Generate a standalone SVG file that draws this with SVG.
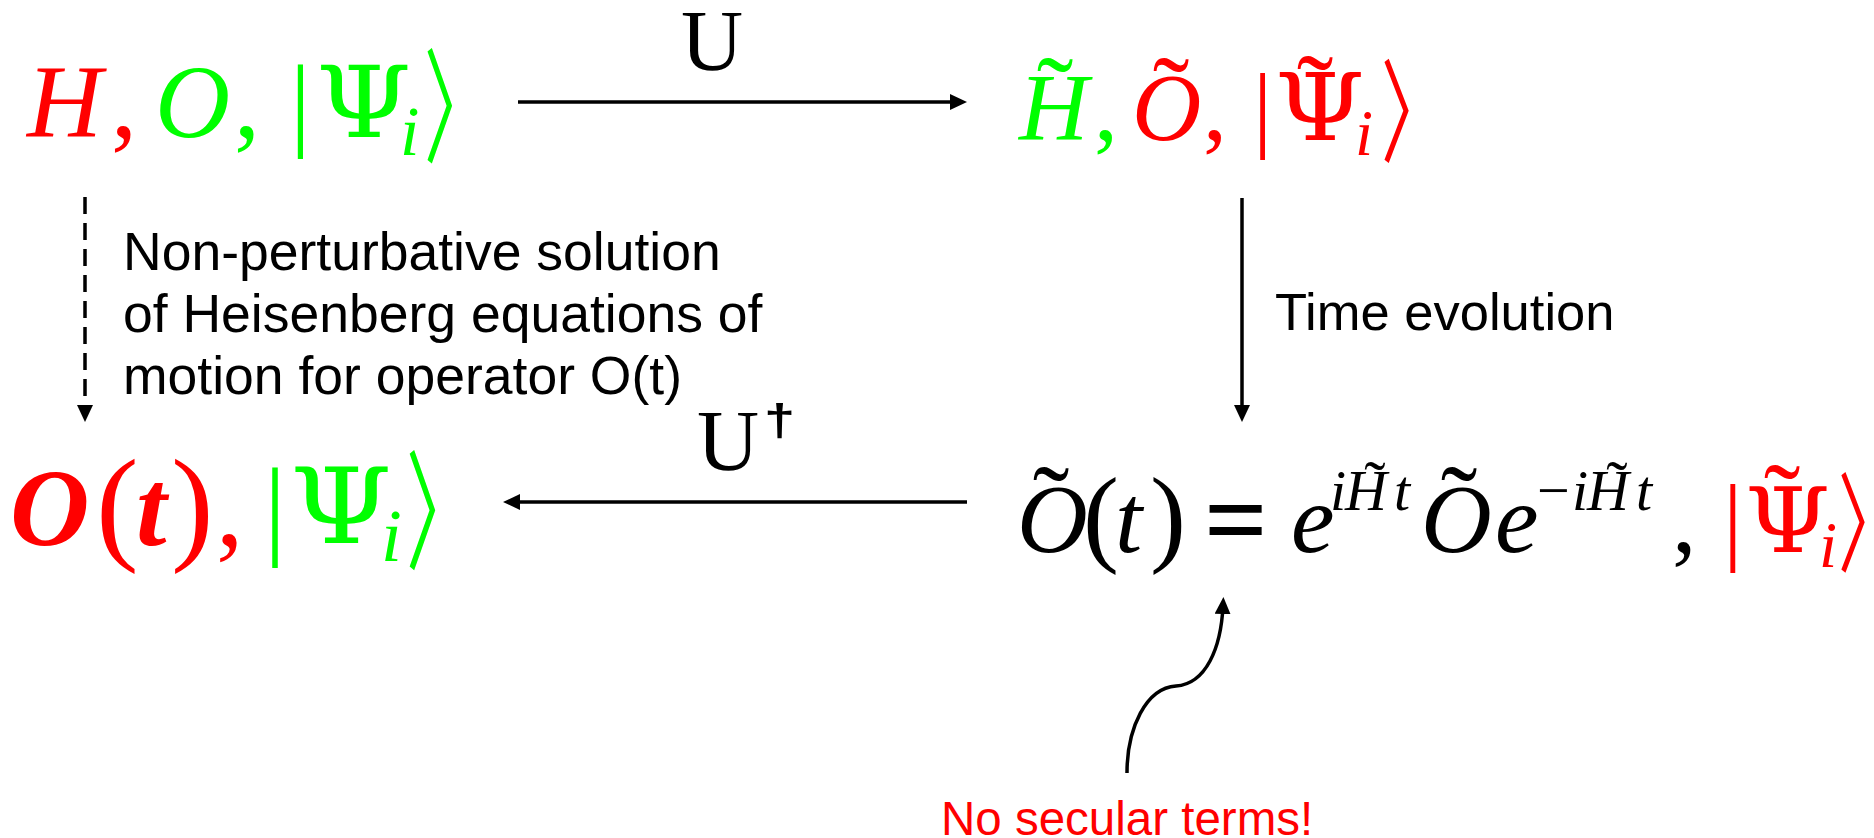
<svg xmlns="http://www.w3.org/2000/svg" width="1874" height="838" viewBox="0 0 1874 838">
<style>
.m{font-family:"Liberation Serif","DejaVu Serif",serif;}
.ps{font-family:"DejaVu Serif","Liberation Serif",serif;}
.it{font-style:italic;}
.bi{font-style:italic;font-weight:bold;}
.b{font-weight:bold;}
.s{font-family:"Liberation Sans",Arial,sans-serif;}
.ab{font-family:"Noto Sans CJK JP","Noto Sans CJK SC",sans-serif;}
.r{fill:#ff0000;}
.g{fill:#00ff00;}
.k{fill:#000000;}
.ln{stroke:#000;stroke-width:3.5;fill:none;}
</style>
<defs>
<marker id="ah" markerUnits="userSpaceOnUse" markerWidth="18" markerHeight="16" refX="8" refY="8" orient="auto">
<path d="M0,0 L17,8 L0,16 z" fill="#000"/>
</marker>
</defs>
<rect width="1874" height="838" fill="#fff"/>

<g id="connectors">
<line class="ln" x1="518" y1="102" x2="958" y2="102" marker-end="url(#ah)"/>
<line class="ln" x1="967" y1="502" x2="512" y2="502" marker-end="url(#ah)"/>
<line class="ln" x1="1242" y1="198" x2="1242" y2="413" marker-end="url(#ah)"/>
<line class="ln" x1="85" y1="197" x2="85" y2="413" stroke-dasharray="17 9" marker-end="url(#ah)"/>
<path class="ln" d="M1127,773 C1127,728 1146,688 1176,686 C1206,684 1221,648 1223,606" marker-end="url(#ah)"/>
<text class="m k" x="681" y="70" font-size="86">U</text>
<text class="m k" x="697" y="470" font-size="86">U</text>
<text class="s k b" transform="translate(764,435) scale(1,0.8)" x="0" y="0" font-size="56">†</text>
<text class="s k" font-size="53.5"><tspan x="123" y="270">Non-perturbative solution</tspan><tspan x="123" y="332">of Heisenberg equations of</tspan><tspan x="123" y="394">motion for operator O(t)</tspan></text>
<text class="s k" x="1275" y="330" font-size="52.5">Time evolution</text>
<text class="s r" x="941" y="835" font-size="47.5">No secular terms!</text>
</g>

<g id="node-top-left" font-size="104">
<text class="m it r" x="27" y="137">H</text>
<text class="m r" x="111" y="137">,</text>
<text class="m it g" x="155" y="137">O</text>
<text class="m g" x="234" y="137">,</text>
<text class="m g" x="290" y="137">|</text>
<text class="ps g" transform="translate(316,137) scale(1.1,1)" x="0" y="0" font-size="99">Ψ</text>
<text class="m it g" x="400" y="155" font-size="70">i</text>
<text class="ab g" transform="translate(424,153) scale(0.55,1)" x="0" y="0" font-size="124">〉</text>
</g>

<g id="node-top-right" font-size="96">
<text class="m it g" x="1019" y="140">H</text>
<text class="m g" x="1055" y="132" text-anchor="middle" font-size="110">˜</text>
<text class="m g" x="1094" y="140">,</text>
<text class="m it r" x="1132" y="140">O</text>
<text class="m r" x="1171" y="132" text-anchor="middle" font-size="110">˜</text>
<text class="m r" x="1203" y="140">,</text>
<text class="m r" x="1253" y="140">|</text>
<text class="ps r" transform="translate(1275,140) scale(1.1,1)" x="0" y="0" font-size="93">Ψ</text>
<text class="m r" x="1315" y="130" text-anchor="middle" font-size="110">˜</text>
<text class="m it r" x="1355" y="155" font-size="65">i</text>
<text class="ab r" transform="translate(1381,154) scale(0.6,1)" x="0" y="0" font-size="112">〉</text>
</g>

<g id="node-bottom-left" font-size="110">
<text class="m bi r" x="10" y="545">O</text>
<text class="m r" x="96" y="547" font-size="128">(</text>
<text class="m bi r" x="136" y="545">t</text>
<text class="m r" x="171" y="547" font-size="128">)</text>
<text class="m r" x="216" y="545">,</text>
<text class="m g" x="264" y="545">|</text>
<text class="ps g" transform="translate(290,543) scale(1.12,1)" x="0" y="0" font-size="104">Ψ</text>
<text class="m it g" x="381" y="561" font-size="75">i</text>
<text class="ab g" transform="translate(406,560) scale(0.55,1)" x="0" y="0" font-size="129">〉</text>
</g>

<g id="node-bottom-right" font-size="98">
<text class="m it k" x="1017" y="552">O</text>
<text class="m k" x="1051" y="541" text-anchor="middle" font-size="110">˜</text>
<text class="m k" x="1083" y="552" font-size="108">(</text>
<text class="m it k" x="1115" y="552">t</text>
<text class="m k" x="1150" y="552" font-size="108">)</text>
<text class="m k b" x="1204" y="557" font-size="112">=</text>
<text class="m it k" x="1291" y="552">e</text>
<text class="m it k" x="1330" y="510" font-size="58">i</text>
<text class="m it k" x="1345" y="510" font-size="58">H</text>
<text class="m k" x="1375" y="505" text-anchor="middle" font-size="64">˜</text>
<text class="m it k" x="1394" y="510" font-size="58">t</text>
<text class="m it k" x="1421" y="552">O</text>
<text class="m k" x="1459" y="541" text-anchor="middle" font-size="110">˜</text>
<text class="m it k" x="1495" y="552">e</text>
<text class="m k" x="1537" y="510" font-size="58">−</text>
<text class="m it k" x="1572" y="510" font-size="58">i</text>
<text class="m it k" x="1587" y="510" font-size="58">H</text>
<text class="m k" x="1617" y="505" text-anchor="middle" font-size="64">˜</text>
<text class="m it k" x="1636" y="510" font-size="58">t</text>
<text class="m k" x="1672" y="552">,</text>
<text class="m r" x="1723" y="552">|</text>
<text class="ps r" transform="translate(1745,552) scale(1.08,1)" x="0" y="0" font-size="90">Ψ</text>
<text class="m r" x="1782" y="539" text-anchor="middle" font-size="110">˜</text>
<text class="m it r" x="1819" y="567" font-size="65">i</text>
<text class="ab r" transform="translate(1838,563) scale(0.6,1)" x="0" y="0" font-size="108">〉</text>
</g>
</svg>
